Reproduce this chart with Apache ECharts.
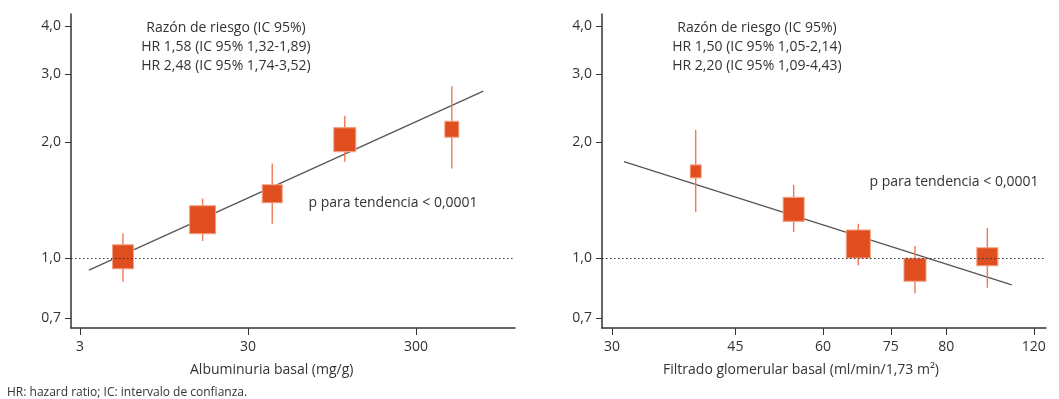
<!DOCTYPE html>
<html>
<head>
<meta charset="utf-8">
<script src="https://cdn.jsdelivr.net/npm/echarts@6/dist/echarts.min.js"></script>
<style>
html,body{margin:0;padding:0;background:#fff;}
#c{width:1059px;height:399px;}
</style>
</head>
<body>
<div id="c"></div>
<script>
// ---- Data ----
// Left panel: albuminuria basal (mg/g)
const albX     = [5.4, 16.1, 41.8, 113, 490];
const albHR    = [1.01, 1.26, 1.47, 2.03, 2.16];
const albLo    = [0.87, 1.11, 1.23, 1.78, 1.71];
const albHi    = [1.16, 1.43, 1.76, 2.34, 2.79];
const albTrendX = [3.39, 755];
const albTrendY = [0.933, 2.71];
const albTicks  = [3, 30, 300];
const albTickLabels = ['3', '30', '300'];

// Right panel: filtrado glomerular basal (ml/min/1,73 m2)
const fgX     = [39.5, 54.5, 67.4, 81.2, 103];
const fgHR    = [1.68, 1.34, 1.09, 0.935, 1.01];
const fgLo    = [1.32, 1.17, 0.96, 0.813, 0.84];
const fgHi    = [2.15, 1.55, 1.23, 1.078, 1.20];
const fgTrendX = [31.2, 111.6];
const fgTrendY = [1.78, 0.855];
const fgTicks  = [30, 45, 60, 75, 90, 120];
const fgTickLabels = ['30', '45', '60', '75', '80', '120'];

// Shared y axis (hazard ratio, log scale)
const hrTicks = [0.7, 1, 2, 3, 4];
const hrTickLabels = ['0,7', '1,0', '2,0', '3,0', '4,0'];

// Text
const leftText  = ['Razón de riesgo (IC 95%)', 'HR 1,58 (IC 95% 1,32-1,89)', 'HR 2,48 (IC 95% 1,74-3,52)'];
const rightText = ['Razón de riesgo (IC 95%)', 'HR 1,50 (IC 95% 1,05-2,14)', 'HR 2,20 (IC 95% 1,09-4,43)'];
const pText = 'p para tendencia < 0,0001';
const leftXTitle = 'Albuminuria basal (mg/g)';
const rightXTitle = 'Filtrado glomerular basal (ml/min/1,73 m²)';
const footnote = 'HR: hazard ratio; IC: intervalo de confianza.';

// ---- Styles ----
const albMarkerSize = [[21, 24], [26, 28], [20, 18], [22, 24], [14, 16]];
const fgMarkerSize  = [[11, 13], [21, 24], [24, 28], [22, 23], [21, 18]];
const FONT = 'Open Sans';
const TXT = '#333333';
const ORANGE = '#E04E20';
const CI = '#EE7A55';
const L = Math.log10;

function fmtMap(ticks, labels) {
  return function (v) {
    for (let i = 0; i < ticks.length; i++) {
      if (Math.abs(L(ticks[i]) - v) < 1e-6) return labels[i];
    }
    return '';
  };
}

function xAxis(gi, min, max, ticks, labels) {
  return {
    type: 'value', gridIndex: gi, min: L(min), max: L(max),
    splitLine: {show: false},
    axisLine: {show: true, onZero: false, lineStyle: {color: '#333', width: 1.5}},
    axisTick: {show: true, length: 7, customValues: ticks.map(L), lineStyle: {color: '#333', width: 1}},
    axisLabel: {customValues: ticks.map(L), formatter: fmtMap(ticks, labels),
      color: TXT, fontFamily: FONT, fontSize: 14, margin: 12}
  };
}
function yAxis(gi) {
  return {
    type: 'value', gridIndex: gi, min: L(0.661), max: L(4.29),
    splitLine: {show: false},
    axisLine: {show: true, onZero: false, lineStyle: {color: '#333', width: 1.5}},
    axisTick: {show: true, length: 6, customValues: hrTicks.map(L), lineStyle: {color: '#333', width: 1}},
    axisLabel: {customValues: hrTicks.map(L), formatter: fmtMap(hrTicks, hrTickLabels),
      color: TXT, fontFamily: FONT, fontSize: 14, margin: 10}
  };
}

function panelSeries(gi, xs, hr, lo, hi, tx, ty, sizes) {
  return [
    {
      type: 'line', xAxisIndex: gi, yAxisIndex: gi, silent: true,
      data: tx.map((x, i) => [L(x), L(ty[i])]),
      symbol: 'none', lineStyle: {color: '#555', width: 1.3}, z: 2,
      markLine: {
        silent: true, symbol: 'none', label: {show: false},
        lineStyle: {color: '#333', type: [1.5, 2.5], width: 1},
        data: [{yAxis: 0}]
      }
    },
    {
      type: 'custom', xAxisIndex: gi, yAxisIndex: gi, silent: true, z: 3,
      data: xs.map((x, i) => [L(x), L(lo[i]), L(hi[i])]),
      renderItem: function (params, api) {
        const a = api.coord([api.value(0), api.value(1)]);
        const b = api.coord([api.value(0), api.value(2)]);
        return {type: 'line', shape: {x1: a[0], y1: a[1], x2: b[0], y2: b[1]},
          style: {stroke: CI, lineWidth: 1.4}};
      }
    },
    {
      type: 'scatter', xAxisIndex: gi, yAxisIndex: gi, silent: true, z: 4,
      data: xs.map((x, i) => ({value: [L(x), L(hr[i])], symbolSize: sizes[i]})),
      symbol: 'rect',
      itemStyle: {color: ORANGE, borderColor: '#F2A283', borderWidth: 1, opacity: 1}
    }
  ];
}

function txt(x, y, t, size, align) {
  return {
    type: 'text', x: x, y: y,
    style: {text: t, fill: TXT, font: size + 'px "' + FONT + '"', textAlign: align || 'center', textVerticalAlign: 'middle'}
  };
}
function textBlock(cx, top, lines) {
  return lines.map((t, i) => txt(cx, top + i * 19, t, 14));
}

const chart = echarts.init(document.getElementById('c'), null, {renderer: 'canvas'});
chart.setOption({
  animation: false,
  backgroundColor: '#fff',
  grid: [
    {left: 71, top: 14, width: 444, height: 314},
    {left: 602, top: 14, width: 444, height: 314}
  ],
  xAxis: [
    xAxis(0, 2.65, 1165, albTicks, albTickLabels),
    xAxis(1, 29.03, 124.9, fgTicks, fgTickLabels)
  ],
  yAxis: [yAxis(0), yAxis(1)],
  series: [
    ...panelSeries(0, albX, albHR, albLo, albHi, albTrendX, albTrendY, albMarkerSize),
    ...panelSeries(1, fgX, fgHR, fgLo, fgHi, fgTrendX, fgTrendY, fgMarkerSize)
  ],
  graphic: [
    ...textBlock(226, 27.7, leftText),
    ...textBlock(757, 27.7, rightText),
    txt(393, 202.7, pText, 14),
    txt(954, 181.7, pText, 14),
    txt(271.7, 370, leftXTitle, 14),
    txt(801, 370, rightXTitle, 14),
    txt(7, 393, footnote, 12, 'left')
  ]
});
</script>
</body>
</html>
